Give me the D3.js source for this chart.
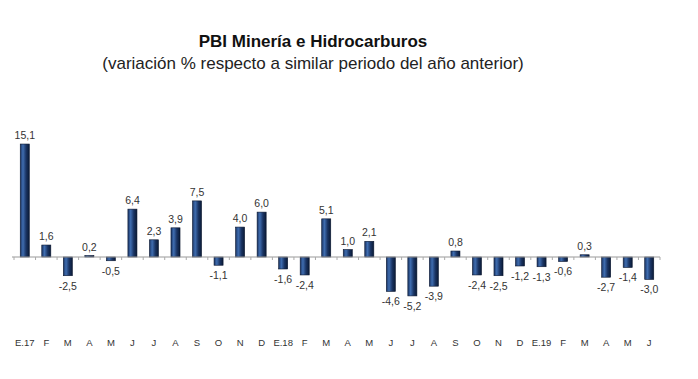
<!DOCTYPE html>
<html><head><meta charset="utf-8">
<script src="https://cdn.jsdelivr.net/npm/d3@7"></script>
<style>body{margin:0;background:#fff}svg{display:block}</style>
</head><body>
<svg id="c" width="698" height="379"></svg>
<script>
const categories = ["E.17","F","M","A","M","J","J","A","S","O","N","D","E.18","F","M","A","M","J","J","A","S","O","N","D","E.19","F","M","A","M","J"];
const values = [15.1,1.6,-2.5,0.2,-0.5,6.4,2.3,3.9,7.5,-1.1,4.0,6.0,-1.6,-2.4,5.1,1.0,2.1,-4.6,-5.2,-3.9,0.8,-2.4,-2.5,-1.2,-1.3,-0.6,0.3,-2.7,-1.4,-3.0];
const title = "PBI Minería e Hidrocarburos";
const subtitle = "(variación % respecto a similar periodo del año anterior)";

const svg = d3.select("#c");
const font = "Liberation Sans, Arial, sans-serif";
const idx = categories.map((_, i) => i);
const x = d3.scaleBand().domain(idx).range([14, 660]).paddingInner(0.58).paddingOuter(0.29);
const y = d3.scaleLinear().domain([-6, 16]).range([301.9, 137.3]);

const defs = svg.append("defs");
const g = defs.append("linearGradient").attr("id","bg").attr("x1","0").attr("x2","1").attr("y1","0").attr("y2","0");
g.append("stop").attr("offset","0").attr("stop-color","#1b3564");
g.append("stop").attr("offset","0.3").attr("stop-color","#3f6db0");
g.append("stop").attr("offset","0.65").attr("stop-color","#1a3463");
g.append("stop").attr("offset","1").attr("stop-color","#0a1a35");

svg.append("text").attr("x",313).attr("y",47).attr("text-anchor","middle")
  .attr("font-family",font).attr("font-size",17).attr("font-weight","bold").attr("fill","#111").text(title);
svg.append("text").attr("x",313).attr("y",69).attr("text-anchor","middle")
  .attr("font-family",font).attr("font-size",17).attr("fill","#222").text(subtitle);

// bars
svg.append("g").selectAll("rect").data(values).join("rect")
  .attr("x",(d,i)=>x(i)).attr("width",x.bandwidth())
  .attr("y",d=>y(Math.max(0,d))).attr("height",d=>Math.abs(y(d)-y(0)))
  .attr("fill","url(#bg)").attr("stroke","#0a1630").attr("stroke-width",0.6);

// zero axis
const ax = d3.axisBottom(x).tickSize(3).tickFormat("");
const axg = svg.append("g").attr("transform",`translate(0,${y(0)})`).call(ax);
axg.select(".domain").attr("stroke","#999").attr("d",`M12,0H660`);
axg.selectAll(".tick line").attr("stroke","#aaa").attr("transform",`translate(${-x.step()/2},0)`);
axg.append("line").attr("x1",660).attr("x2",660).attr("y1",0).attr("y2",3).attr("stroke","#aaa");

// value labels
const fmt = v => d3.format(".1f")(v).replace(".", ",").replace("−","-");
svg.append("g").selectAll("text").data(values).join("text")
  .attr("x",(d,i)=>x(i)+x.bandwidth()/2)
  .attr("y",d=> d>=0 ? y(d)-5 : y(d)+14)
  .attr("text-anchor","middle").attr("font-family",font).attr("font-size",10.5).attr("fill","#333")
  .text(fmt);

// category labels
svg.append("g").selectAll("text").data(categories).join("text")
  .attr("x",(d,i)=>x(i)+x.bandwidth()/2).attr("y",346)
  .attr("text-anchor","middle").attr("font-family",font).attr("font-size",9.5).attr("fill","#333")
  .text(d=>d);
</script>
</body></html>
